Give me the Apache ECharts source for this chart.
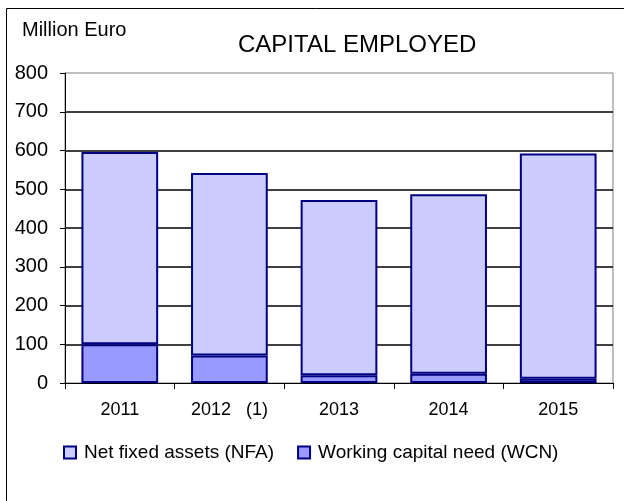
<!DOCTYPE html>
<html>
<head>
<meta charset="utf-8">
<script src="https://cdn.jsdelivr.net/npm/echarts@6/dist/echarts.min.js"></script>
<style>html,body{margin:0;padding:0;background:#fff;}#c{width:624px;height:501px;}</style>
</head>
<body>
<div id="c"></div>
<script>
const categories = ['2011', '2012   (1)', '2013', '2014', '2015'];
const nfaValues = [496, 471, 452, 463, 581];
const wcnValues = [100, 71, 20, 24, 11];
const seriesNames = ['Net fixed assets (NFA)', 'Working capital need (WCN)'];
const yTicks = { min: 0, max: 800, interval: 100 };

const FONT = '"Liberation Sans", Arial, sans-serif';
const chart = echarts.init(document.getElementById('c'), null, { renderer: 'canvas' });
chart.setOption({
  backgroundColor: '#fff',
  animation: false,
  textStyle: { fontFamily: FONT, color: '#000' },
  title: [
    { text: 'CAPITAL EMPLOYED', left: 233, top: 28, padding: 5, textStyle: { fontFamily: FONT, fontSize: 24, fontWeight: 'normal', color: '#000' } },
    { text: 'Million Euro', left: 17, top: 15, padding: 5, textStyle: { fontFamily: FONT, fontSize: 20, fontWeight: 'normal', color: '#000' } }
  ],
  graphic: [
    { type: 'polyline', shape: { points: [[6.5, 501], [6.5, 8.5], [624, 8.5]] }, style: { stroke: '#000', lineWidth: 1, fill: null } }
  ],
  legend: {
    data: seriesNames,
    left: 58, top: 438,
    itemWidth: 12, itemHeight: 12, itemGap: 23,
    icon: 'rect', selectedMode: false,
    textStyle: { fontFamily: FONT, fontSize: 19, color: '#000', padding: [0, 0, 0, 3] }
  },
  grid: { left: 65, right: 11, top: 73, bottom: 118, show: true, borderColor: '#808080', borderWidth: 1, containLabel: false },
  xAxis: {
    type: 'category', data: categories,
    axisLine: { lineStyle: { color: '#000', width: 1 } },
    axisTick: { show: true, length: 6, lineStyle: { color: '#000' } },
    axisLabel: { fontFamily: FONT, fontSize: 18, color: '#000', margin: 18 }
  },
  yAxis: {
    type: 'value', min: yTicks.min, max: yTicks.max, interval: yTicks.interval,
    axisLine: { show: true, lineStyle: { color: '#000', width: 1 } },
    axisTick: { show: true, length: 5, lineStyle: { color: '#000' } },
    axisLabel: { fontFamily: FONT, fontSize: 20, color: '#000', margin: 17 },
    splitLine: { show: true, showMinLine: false, showMaxLine: false, lineStyle: { color: '#000', width: 1.5 } }
  },
  series: [
    { name: seriesNames[1], type: 'bar', stack: 'ce', data: wcnValues, barWidth: '70%',
      itemStyle: { color: '#9999FF', borderColor: '#000080', borderWidth: 2 } },
    { name: seriesNames[0], type: 'bar', stack: 'ce', data: nfaValues, barWidth: '70%',
      itemStyle: { color: '#CCCCFF', borderColor: '#000080', borderWidth: 2 } }
  ]
});
</script>
</body>
</html>
